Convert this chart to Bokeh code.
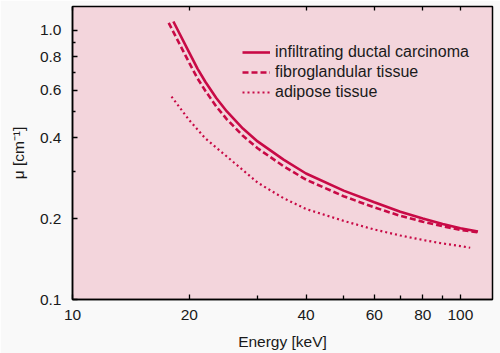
from bokeh.plotting import figure
from bokeh.models import FixedTicker, LogAxis, Legend, LegendItem
from bokeh.embed import file_html
from bokeh.resources import INLINE

# Data
energy_idc = [18.2, 20, 21, 22, 23.5, 25, 27.5, 30, 35, 40, 50, 60, 70, 80, 90, 100, 111]
mu_idc = [1.080, 0.828, 0.722, 0.645, 0.560, 0.500, 0.432, 0.387, 0.331, 0.294, 0.254, 0.230,
          0.212, 0.200, 0.191, 0.184, 0.179]

energy_fibro = [17.7, 20, 21, 22, 23.5, 25, 27.5, 30, 35, 40, 50, 60, 70, 80, 90, 100, 111]
mu_fibro = [1.068, 0.758, 0.664, 0.597, 0.521, 0.4675, 0.406, 0.365, 0.313, 0.279, 0.242, 0.220,
            0.2046, 0.1946, 0.1872, 0.1816, 0.1777]

energy_adipose = [18.0, 20, 22, 25, 30, 35, 40, 50, 60, 70, 80, 90, 100, 106]
mu_adipose = [0.568, 0.464, 0.397, 0.340, 0.272, 0.238, 0.217, 0.196, 0.182, 0.173, 0.1665,
              0.1615, 0.158, 0.1557]

series_labels = ["infiltrating ductal carcinoma", "fibroglandular tissue", "adipose tissue"]

x_major = [10, 20, 40, 60, 80, 100]
x_minor = [30, 50, 70, 90]
y_major = [0.1, 0.2, 0.4, 0.6, 0.8, 1.0]
y_minor = [0.3, 0.5, 0.7, 0.9]

LINE = "#c80a46"
FONT = "Liberation Sans"

p = figure(width=500, height=353, x_axis_type="log", y_axis_type="log",
           x_range=(10, 121), y_range=(0.1, 1.228),
           output_backend="svg", toolbar_location=None,
           min_border_left=72, min_border_right=8, min_border_top=6, min_border_bottom=54)

p.background_fill_color = "#f3d5dc"
p.border_fill_color = "#f9f9f9"
p.outline_line_color = "black"
p.outline_line_width = 1.5
p.xgrid.visible = False
p.ygrid.visible = False

r1 = p.line(energy_idc, mu_idc, line_color=LINE, line_width=2.6)
r2 = p.line(energy_fibro, mu_fibro, line_color=LINE, line_width=2.6, line_dash="6 3")
r3 = p.line(energy_adipose, mu_adipose, line_color=LINE, line_width=2.2, line_dash="2 3")

xa = p.xaxis[0]
xa.ticker = FixedTicker(ticks=x_major, minor_ticks=x_minor)
ya = p.yaxis[0]
ya.ticker = FixedTicker(ticks=y_major, minor_ticks=y_minor)
ya.major_label_overrides = {0.1: "0.1", 0.2: "0.2", 0.4: "0.4", 0.6: "0.6", 0.8: "0.8", 1.0: "1.0", 1: "1.0"}

for ax in (xa, ya):
    ax.major_tick_in = 5
    ax.major_tick_out = 0
    ax.minor_tick_in = 4
    ax.minor_tick_out = 0
    ax.axis_line_color = "black"
    ax.axis_line_width = 1.5
    ax.major_tick_line_color = "black"
    ax.minor_tick_line_color = "black"
    ax.major_tick_line_width = 1.3
    ax.minor_tick_line_width = 1.3
    ax.major_label_text_font = FONT
    ax.major_label_text_font_size = "15.5px"
    ax.major_label_text_color = "#1a1a1a"
    ax.axis_label_text_font = FONT
    ax.axis_label_text_font_size = "15.5px"
    ax.axis_label_text_font_style = "normal"
    ax.axis_label_text_color = "#1a1a1a"

ya.minor_tick_in = 3
xa.axis_label = "Energy [keV]"
ya.axis_label = "μ [cm⁻¹]"
xa.major_label_standoff = 10
ya.major_label_standoff = 11
xa.axis_label_standoff = 10
ya.axis_label_standoff = 10

top = LogAxis(ticker=FixedTicker(ticks=x_major, minor_ticks=x_minor),
              major_tick_in=4, major_tick_out=0, minor_tick_in=0, minor_tick_out=0,
              major_label_overrides={t: "" for t in x_major}, major_label_standoff=0,
              axis_line_color=None, major_tick_line_color="black", major_tick_line_width=1.3)
p.add_layout(top, "above")

legend = Legend(items=[LegendItem(label=series_labels[0], renderers=[r1]),
                       LegendItem(label=series_labels[1], renderers=[r2]),
                       LegendItem(label=series_labels[2], renderers=[r3])],
                location=(170, 197), padding=0, margin=0, spacing=0,
                glyph_width=28, glyph_height=20, label_height=20, label_standoff=5,
                label_text_font=FONT, label_text_font_size="16px", label_text_color="#1a1a1a",
                border_line_alpha=0, background_fill_alpha=0)
p.add_layout(legend)

open("out.html", "w").write(file_html(p, INLINE))
